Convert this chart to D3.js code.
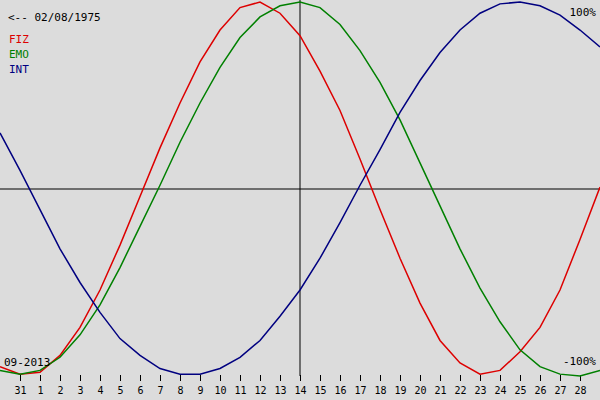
<!DOCTYPE html><html><head><script src="https://cdn.jsdelivr.net/npm/d3@7"></script>
<style>body{margin:0;background:#dcdcdc}text{font-family:"DejaVu Sans Mono",monospace}</style></head><body>
<svg id="c" width="600" height="400"></svg>
<script>
const days=["30","31","1","2","3","4","5","6","7","8","9","10","11","12","13","14","15","16","17","18","19","20","21","22","23","24","25","26","27","28","29"];
const fiz=[-95,-99,-98,-89,-74,-54,-30,-4,22,46,68,85,97,100,94,82,63,42,16,-11,-37,-61,-81,-93,-99,-97,-87,-74,-54,-27,1];
const emo=[-97,-99,-97,-90,-78,-62,-42,-20,2,25,46,65,81,92,98,100,97,88,74,57,37,14,-9,-32,-53,-71,-86,-95,-99,-100,-97];
const intl=[30,10,-11,-32,-50,-66,-80,-89,-96,-99,-99,-96,-90,-81,-68,-54,-37,-18,2,21,41,58,73,85,94,99,100,98,93,85,76];
const tickDays=days.slice(1,30);
const svg=d3.select("#c");
svg.append("rect").attr("width",600).attr("height",400).attr("fill","#dcdcdc");
const x=d3.scalePoint().domain(days).range([0,600]);
const y=d3.scaleLinear().domain([-100,100]).range([376,2]);
svg.append("line").attr("x1",0).attr("x2",600).attr("y1",y(0)).attr("y2",y(0)).attr("stroke","#000");
svg.append("line").attr("x1",x("14")).attr("x2",x("14")).attr("y1",0).attr("y2",376).attr("stroke","#000");
const ax=svg.append("g").attr("transform","translate(0,375)").call(d3.axisBottom(x).tickValues(tickDays).tickSize(6).tickPadding(6));
ax.select(".domain").remove();
ax.selectAll("text").attr("font-size",10).attr("font-family","DejaVu Sans Mono").attr("fill","#000");
const line=d3.line().x((d,i)=>x(days[i])).y(d=>y(d));
[[fiz,"#dd0000"],[emo,"#008000"],[intl,"#000080"]].forEach(([s,c])=>svg.append("path").datum(s).attr("d",line).attr("fill","none").attr("stroke",c).attr("stroke-width",1.5));
const t=(x0,y0,s,c,a)=>svg.append("text").attr("x",x0).attr("y",y0).attr("fill",c).attr("font-size",11).attr("text-anchor",a||"start").text(s);
t(8,21,"<-- 02/08/1975","#000");
t(9,43,"FIZ","#dd0000");t(9,58,"EMO","#008000");t(9,73,"INT","#000080");
t(596,16,"100%","#000","end");t(596,365,"-100%","#000","end");t(4,366,"09-2013","#000");
</script></body></html>
